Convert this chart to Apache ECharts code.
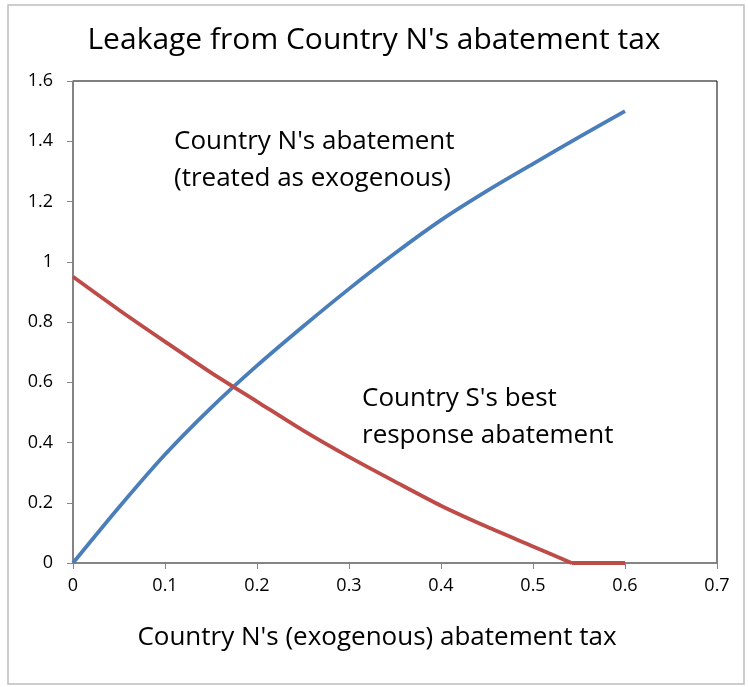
<!DOCTYPE html>
<html lang="en">
<head>
    <meta charset="utf-8"/>
    <script src="https://cdn.jsdelivr.net/npm/echarts@6.0.0/dist/echarts.min.js"></script>
    <title>Leakage</title>
    <style>
        html, body { margin: 0; padding: 0; background: #fff; }
        #main { width: 748px; height: 687px; }
    </style>
</head>
<body>
<div id="main"></div>
<script type="text/javascript">

    // tax levels and abatement
    var taxN = [0, 0.05, 0.1, 0.15, 0.2, 0.25, 0.3, 0.35, 0.4, 0.45, 0.5, 0.55, 0.6];
    var abateN = [0, 0.185, 0.36, 0.515, 0.655, 0.785, 0.91, 1.028, 1.138, 1.235, 1.325, 1.414, 1.5];

    // S's best response hits zero at the kink, then stays flat
    var taxS = [0, 0.05, 0.1, 0.15, 0.2, 0.25, 0.3, 0.35, 0.4, 0.45, 0.5, 0.542, 0.6];
    var abateS = [0.95, 0.84, 0.735, 0.632, 0.536, 0.44, 0.352, 0.27, 0.19, 0.12, 0.055, 0, 0];
    var kinkIdx = 11;

    var xTicks = ['0', '0.1', '0.2', '0.3', '0.4', '0.5', '0.6', '0.7'];

    var chartTitle = "Leakage from Country N's abatement tax";
    var xName = "Country N's (exogenous) abatement tax";
    var labelN = "Country N's abatement\n(treated as exogenous)";
    var labelS = "Country S's best\nresponse abatement";

    var font = '"Open Sans", "DejaVu Sans", sans-serif';
    var blue = '#4A7EBB';
    var red = '#BE4B48';

    var myChart = echarts.init(document.getElementById('main'));

    function pairs(xs, ys) {
        return xs.map(function (x, i) { return [x, ys[i]]; });
    }

    var sPoints = pairs(taxS, abateS);

    var option = {
        animation: false,
        backgroundColor: '#fff',
        title: {
            text: chartTitle,
            left: 'center',
            top: 20,
            textStyle: {fontFamily: font, fontSize: 30, fontWeight: 'normal', color: '#000'}
        },
        grid: {
            left: 73, right: 31, top: 81, bottom: 124,
            show: true,
            borderColor: '#000',
            borderWidth: 1,
            backgroundColor: '#fff'
        },
        xAxis: {
            type: 'value',
            min: 0, max: 0.7, interval: 0.1,
            axisLine: {onZero: false, lineStyle: {color: '#868686', width: 1.5}},
            axisTick: {show: true, length: 6, lineStyle: {color: '#868686'}},
            splitLine: {show: false},
            axisLabel: {
                margin: 14, fontFamily: font, fontSize: 18, color: '#000',
                formatter: function (v) { return xTicks[Math.round(v * 10)]; }
            }
        },
        yAxis: {
            type: 'value',
            min: 0, max: 1.6, interval: 0.2,
            axisLine: {show: true, lineStyle: {color: '#868686', width: 1.5}},
            axisTick: {show: true, length: 6, lineStyle: {color: '#868686'}},
            splitLine: {show: false},
            axisLabel: {margin: 20, fontFamily: font, fontSize: 18, color: '#000'}
        },
        series: [
            {
                name: 'N',
                type: 'line',
                data: pairs(taxN, abateN),
                smooth: 0.25,
                showSymbol: false,
                lineStyle: {color: blue, width: 3.8}
            },
            {
                name: 'S',
                type: 'line',
                data: sPoints.slice(0, kinkIdx + 1),
                smooth: 0.25,
                showSymbol: false,
                lineStyle: {color: red, width: 3.8}
            },
            {
                name: 'S flat',
                type: 'line',
                data: sPoints.slice(kinkIdx),
                showSymbol: false,
                lineStyle: {color: red, width: 3.8}
            }
        ],
        graphic: [
            {
                type: 'rect',
                shape: {x: 8, y: 5, width: 736, height: 679},
                style: {fill: 'none', stroke: '#bdbdbd', lineWidth: 1.5},
                z: -1
            },
            {
                type: 'text', left: 174, top: 123,
                style: {text: labelN, fontFamily: font, fontSize: 26, lineHeight: 37, fill: '#000'}
            },
            {
                type: 'text', left: 362, top: 380,
                style: {text: labelS, fontFamily: font, fontSize: 26, lineHeight: 37, fill: '#000'}
            },
            {
                type: 'text', x: 377, y: 625,
                style: {text: xName, fontFamily: font, fontSize: 26, fill: '#000', align: 'center'}
            }
        ]
    };
    myChart.setOption(option);
</script>
</body>
</html>
